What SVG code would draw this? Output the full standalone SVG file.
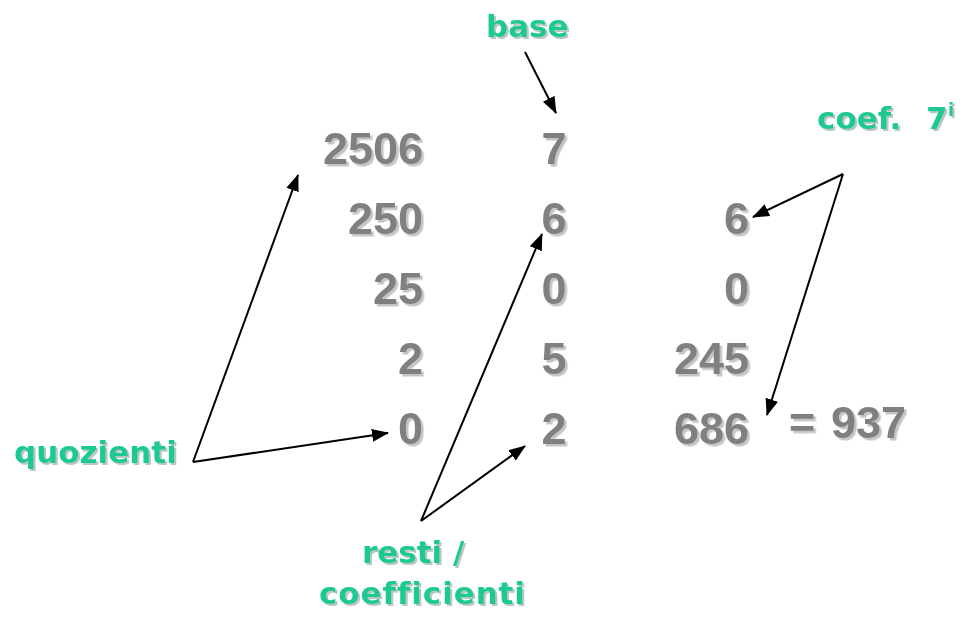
<svg xmlns="http://www.w3.org/2000/svg" width="972" height="618" viewBox="0 0 972 618">
  <style>
    .num { font-family: "Liberation Sans", Arial, sans-serif; font-weight: bold; font-size: 45px; fill: #808080; filter: url(#sh); }
    .lbl { font-family: "DejaVu Sans", "Liberation Sans", sans-serif; font-weight: bold; font-size: 31px; fill: #1cc994; filter: url(#sh2); font-variant-ligatures: none; font-feature-settings: "liga" 0, "clig" 0; }
    .end { text-anchor: end; }
    .mid { text-anchor: middle; }
    .conn { stroke: #000; stroke-width: 2; fill: none; marker-end: url(#arr); }
  </style>
  <defs>
    <filter id="sh" x="-10%" y="-10%" width="130%" height="130%">
      <feDropShadow dx="2.5" dy="2.5" stdDeviation="0.6" flood-color="#c4c4c4" flood-opacity="1"/>
    </filter>
    <filter id="sh2" x="-10%" y="-10%" width="130%" height="130%">
      <feDropShadow dx="2" dy="2" stdDeviation="0.6" flood-color="#b8c8c0" flood-opacity="1"/>
    </filter>
    <marker id="arr" viewBox="0 0 17 13" refX="16" refY="6.5" markerWidth="17" markerHeight="13" orient="auto" markerUnits="userSpaceOnUse">
      <path d="M0,0 L17,6.5 L0,13 z" fill="#000"/>
    </marker>
  </defs>
  <rect width="972" height="618" fill="#fff"/>

  <g id="connectors">
    <path class="conn" d="M525,52 L556,113"/>
    <path class="conn" d="M193,462 L298,175"/>
    <path class="conn" d="M193,462 L388,433"/>
    <path class="conn" d="M421,521 L542,234"/>
    <path class="conn" d="M421,521 L525,446"/>
    <path class="conn" d="M843,174 L753,217"/>
    <path class="conn" d="M843,174 L767,415"/>
  </g>

  <g id="quotients">
    <text class="num end" x="423" y="164">2506</text>
    <text class="num end" x="423" y="234">250</text>
    <text class="num end" x="423" y="304">25</text>
    <text class="num end" x="423" y="374">2</text>
    <text class="num end" x="423" y="444">0</text>
  </g>
  <g id="remainders">
    <text class="num mid" x="554" y="164">7</text>
    <text class="num mid" x="554" y="234">6</text>
    <text class="num mid" x="554" y="304">0</text>
    <text class="num mid" x="554" y="374">5</text>
    <text class="num mid" x="554" y="444">2</text>
  </g>
  <g id="products">
    <text class="num end" x="749" y="234">6</text>
    <text class="num end" x="749" y="304">0</text>
    <text class="num end" x="749" y="374">245</text>
    <text class="num end" x="749" y="444">686</text>
  </g>
  <g id="result">
    <text class="num" x="789" y="438">=<tspan x="831">937</tspan></text>
  </g>

  <g id="label-base">
    <text class="lbl" x="486" y="37">base</text>
  </g>
  <g id="label-coef">
    <text class="lbl" x="817" y="129">coef.<tspan x="926">7</tspan><tspan x="948" y="116" font-size="18">i</tspan></text>
  </g>
  <g id="label-quozienti">
    <text class="lbl" x="14" y="463">quozienti</text>
  </g>
  <g id="label-resti">
    <text class="lbl" x="362" y="563">resti /</text>
    <text class="lbl" x="319" y="604" textLength="206">coefficienti</text>
  </g>
</svg>
